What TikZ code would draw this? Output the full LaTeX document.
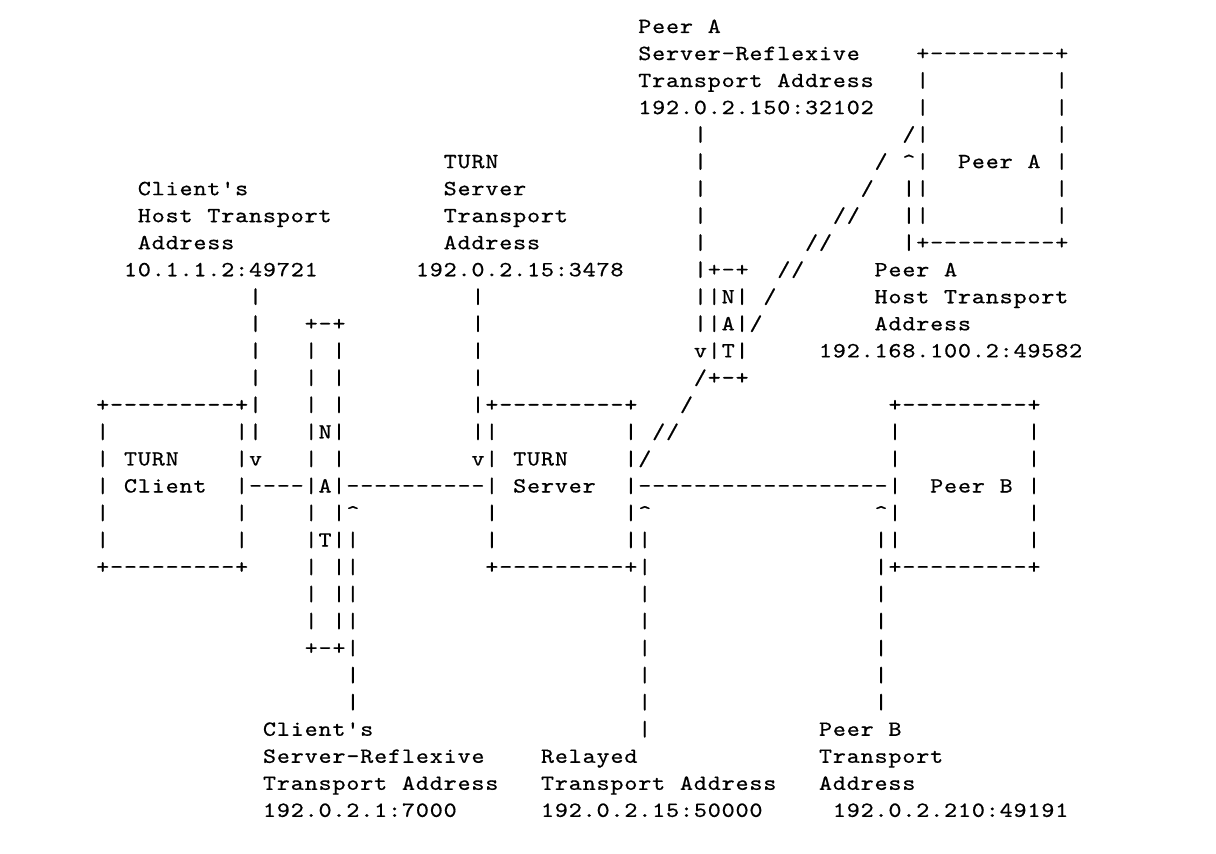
\documentclass[tikz,border=0pt]{standalone}
\usepackage{fontspec}
\newfontfamily\asciifont{lmmono10-regular.otf}[FakeBold=0.6,FakeStretch=1.15]
\newlength\cellw
\setlength\cellw{6.95pt}
\def\gridchars#1{\ifx#1\relax\else\makebox[\cellw][c]{#1}\expandafter\gridchars\fi}
\newcommand\upc{\textasciicircum}
\tikzset{ascii/.style={anchor=base west, inner sep=0pt, outer sep=0pt,
  font=\asciifont\fontsize{10.8}{12}\selectfont, text=black}}
\newcommand\asc[3]{\node[ascii] (r#1c#2) at ({95.75+13.9*#2},{33+27.03*#1}) {\gridchars#3\relax};}
\begin{document}
\begin{tikzpicture}[x=0.5pt,y=-0.5pt]
\fill[white] (0,0) rectangle (1216,854);
\path[use as bounding box] (0,0) rectangle (1216,854);
% rows 0-3
\asc{0}{39}{Peer~A}
\asc{1}{39}{Server-Reflexive}
\asc{1}{59}{+---------+}
\asc{2}{39}{Transport~Address}
\asc{2}{59}{|}
\asc{2}{69}{|}
\asc{3}{39}{192.0.2.150:32102}
\asc{3}{59}{|}
\asc{3}{69}{|}
% rows 4-8
\asc{4}{43}{|}
\asc{4}{58}{/|}
\asc{4}{69}{|}
\asc{5}{25}{TURN}
\asc{5}{43}{|}
\asc{5}{56}{/}
\asc{5}{58}{\upc|}
\asc{5}{62}{Peer~A}
\asc{5}{69}{|}
\asc{6}{3}{Client's}
\asc{6}{25}{Server}
\asc{6}{43}{|}
\asc{6}{55}{/}
\asc{6}{58}{||}
\asc{6}{69}{|}
\asc{7}{3}{Host~Transport}
\asc{7}{25}{Transport}
\asc{7}{43}{|}
\asc{7}{53}{//}
\asc{7}{58}{||}
\asc{7}{69}{|}
\asc{8}{3}{Address}
\asc{8}{25}{Address}
\asc{8}{43}{|}
\asc{8}{51}{//}
\asc{8}{58}{|+---------+}
% rows 9-13
\asc{9}{2}{10.1.1.2:49721}
\asc{9}{23}{192.0.2.15:3478}
\asc{9}{43}{|+-+}
\asc{9}{49}{//}
\asc{9}{56}{Peer~A}
\asc{10}{11}{|}
\asc{10}{27}{|}
\asc{10}{43}{||N|}
\asc{10}{48}{/}
\asc{10}{56}{Host~Transport}
\asc{11}{11}{|}
\asc{11}{15}{+-+}
\asc{11}{27}{|}
\asc{11}{43}{||A|/}
\asc{11}{56}{Address}
\asc{12}{11}{|}
\asc{12}{15}{|~|}
\asc{12}{27}{|}
\asc{12}{43}{v|T|}
\asc{12}{52}{192.168.100.2:49582}
\asc{13}{11}{|}
\asc{13}{15}{|~|}
\asc{13}{27}{|}
\asc{13}{43}{/+-+}
% rows 14-20
\asc{14}{0}{+---------+|}
\asc{14}{15}{|~|}
\asc{14}{27}{|+---------+}
\asc{14}{42}{/}
\asc{14}{57}{+---------+}
\asc{15}{0}{|}
\asc{15}{10}{||}
\asc{15}{15}{|N|}
\asc{15}{27}{||}
\asc{15}{38}{|}
\asc{15}{40}{//}
\asc{15}{57}{|}
\asc{15}{67}{|}
\asc{16}{0}{|}
\asc{16}{2}{TURN}
\asc{16}{10}{|v}
\asc{16}{15}{|~|}
\asc{16}{27}{v|}
\asc{16}{30}{TURN}
\asc{16}{38}{|/}
\asc{16}{57}{|}
\asc{16}{67}{|}
\asc{17}{0}{|}
\asc{17}{2}{Client}
\asc{17}{10}{|----|A|----------|}
\asc{17}{30}{Server}
\asc{17}{38}{|------------------|}
\asc{17}{60}{Peer~B}
\asc{17}{67}{|}
\asc{18}{0}{|}
\asc{18}{10}{|}
\asc{18}{15}{|~|\upc}
\asc{18}{28}{|}
\asc{18}{38}{|\upc}
\asc{18}{56}{\upc|}
\asc{18}{67}{|}
\asc{19}{0}{|}
\asc{19}{10}{|}
\asc{19}{15}{|T||}
\asc{19}{28}{|}
\asc{19}{38}{||}
\asc{19}{56}{||}
\asc{19}{67}{|}
\asc{20}{0}{+---------+}
\asc{20}{15}{|~||}
\asc{20}{28}{+---------+|}
\asc{20}{56}{|+---------+}
% rows 21-25
\asc{21}{15}{|~||}
\asc{21}{39}{|}
\asc{21}{56}{|}
\asc{22}{15}{|~||}
\asc{22}{39}{|}
\asc{22}{56}{|}
\asc{23}{15}{+-+|}
\asc{23}{39}{|}
\asc{23}{56}{|}
\asc{24}{18}{|}
\asc{24}{39}{|}
\asc{24}{56}{|}
\asc{25}{18}{|}
\asc{25}{39}{|}
\asc{25}{56}{|}
% rows 26-29
\asc{26}{12}{Client's}
\asc{26}{39}{|}
\asc{26}{52}{Peer~B}
\asc{27}{12}{Server-Reflexive}
\asc{27}{32}{Relayed}
\asc{27}{52}{Transport}
\asc{28}{12}{Transport~Address}
\asc{28}{32}{Transport~Address}
\asc{28}{52}{Address}
\asc{29}{12}{192.0.2.1:7000}
\asc{29}{32}{192.0.2.15:50000}
\asc{29}{53}{192.0.2.210:49191}
\end{tikzpicture}
\end{document}
